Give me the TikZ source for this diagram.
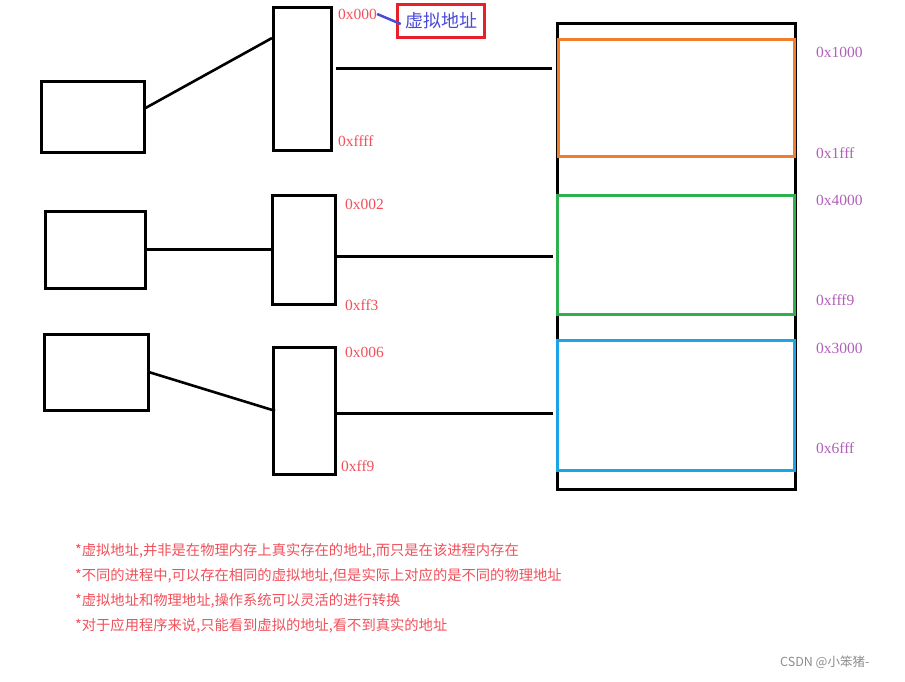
\documentclass[tikz,border=0pt]{standalone}
\usepackage{fontspec}
\setmainfont{Liberation Serif}
\newfontfamily\cjk{Noto Sans CJK SC}
\usetikzlibrary{calc}

\definecolor{virtred}{HTML}{F0505A}
\definecolor{physpurple}{HTML}{B060B8}
\definecolor{segorange}{HTML}{F07E2A}
\definecolor{seggreen}{HTML}{2EB04E}
\definecolor{segblue}{HTML}{1AA5E8}
\definecolor{tagblue}{HTML}{4A4AD8}
\definecolor{tagred}{HTML}{E8202A}

\tikzset{
    box/.style={draw, line width=2.6pt, inner sep=0pt, anchor=north west},
    link/.style={line width=2.6pt},
    vaddr/.style={anchor=west, inner sep=0pt, text=virtred,
        font=\fontsize{15.5}{16}\selectfont},
    paddr/.style={anchor=west, inner sep=0pt, text=physpurple,
        font=\fontsize{15.5}{16}\selectfont},
}

\begin{document}
\begin{tikzpicture}[x=1pt, y=-1pt]
    \useasboundingbox (0,0) rectangle (905,681);

    % processes
    \node[box, minimum width=103, minimum height=71] (p1) at (40,80) {};
    \node[box, minimum width=100, minimum height=77] (p2) at (44,210) {};
    \node[box, minimum width=104, minimum height=76] (p3) at (43,333) {};

    % virtual address spaces
    \node[box, minimum width=58, minimum height=143] (v1) at (272,6) {};
    \node[box, minimum width=63, minimum height=109] (v2) at (271,194) {};
    \node[box, minimum width=62, minimum height=127] (v3) at (272,346) {};

    % physical memory
    \node[box, minimum width=238, minimum height=466] (mem) at (556,22) {};
    \node[box, draw=segorange, minimum width=236, minimum height=117] (s1) at (557,38) {};
    \node[box, draw=seggreen, minimum width=237, minimum height=119] (s2) at (556,194) {};
    \node[box, draw=segblue, minimum width=237, minimum height=130] (s3) at (556,339) {};

    % process -> virtual
    \draw[link] ($(p1.north east)!0.38!(p1.south east)$)
        -- ($(v1.north west)!0.22!(v1.south west)$);
    \draw[link] ($(p2.east)+(0,-0.5)$) -- ($(v2.west)+(0,-0.5)$);
    \draw[link] (p3.east) -- ($(v3.west)+(3,0)$);

    % virtual -> physical
    \coordinate (r1) at ($(v1.north east)!0.43!(v1.south east)+(3,0)$);
    \coordinate (r2) at ($(v2.north east)!0.56!(v2.south east)$);
    \coordinate (r3) at ($(v3.north east)!0.52!(v3.south east)$);
    \draw[link] (r1) -- ($(r1 -| mem.west)+(-4,0)$);
    \draw[link] (r2) -- ($(r2 -| mem.west)+(-3,0)$);
    \draw[link] (r3) -- ($(r3 -| mem.west)+(-3,0)$);

    % virtual addresses
    \node[vaddr] (h0) at (338,14) {0x000};
    \node[vaddr] at (338,141) {0xffff};
    \node[vaddr] at (345,204) {0x002};
    \node[vaddr] at (345,305) {0xff3};
    \node[vaddr] at (345,352) {0x006};
    \node[vaddr] at (341,466) {0xff9};

    % physical addresses
    \node[paddr] at (816,52) {0x1000};
    \node[paddr] at (816,153) {0x1fff};
    \node[paddr] at (816,200) {0x4000};
    \node[paddr] at (816,300) {0xfff9};
    \node[paddr] at (816,348) {0x3000};
    \node[paddr] at (816,448) {0x6fff};

    % tag
    \node[draw=tagred, line width=3.5pt, minimum width=87, minimum height=33,
        inner sep=0pt, text=tagblue, font=\cjk\fontsize{18}{20}\selectfont]
        (tag) at (441,21) {虚拟地址};
    \draw[tagblue, line width=2.5pt] (h0.east) -- ($(tag.west)+(5,3)$);

    % notes
    \node[anchor=north west, inner sep=0pt, align=left, text=virtred,
        font=\cjk\fontsize{14.3}{25}\selectfont] (notes) at (75,543)
        {*虚拟地址,并非是在物理内存上真实存在的地址,而只是在该进程内存在\\
         *不同的进程中,可以存在相同的虚拟地址,但是实际上对应的是不同的物理地址\\
         *虚拟地址和物理地址,操作系统可以灵活的进行转换\\
         *对于应用程序来说,只能看到虚拟的地址,看不到真实的地址};

    \node[anchor=west, inner sep=0pt, text=black!45,
        font=\cjk\fontsize{12.5}{14}\selectfont] (mark) at (780,662) {CSDN @小笨猪-};
\end{tikzpicture}
\end{document}
